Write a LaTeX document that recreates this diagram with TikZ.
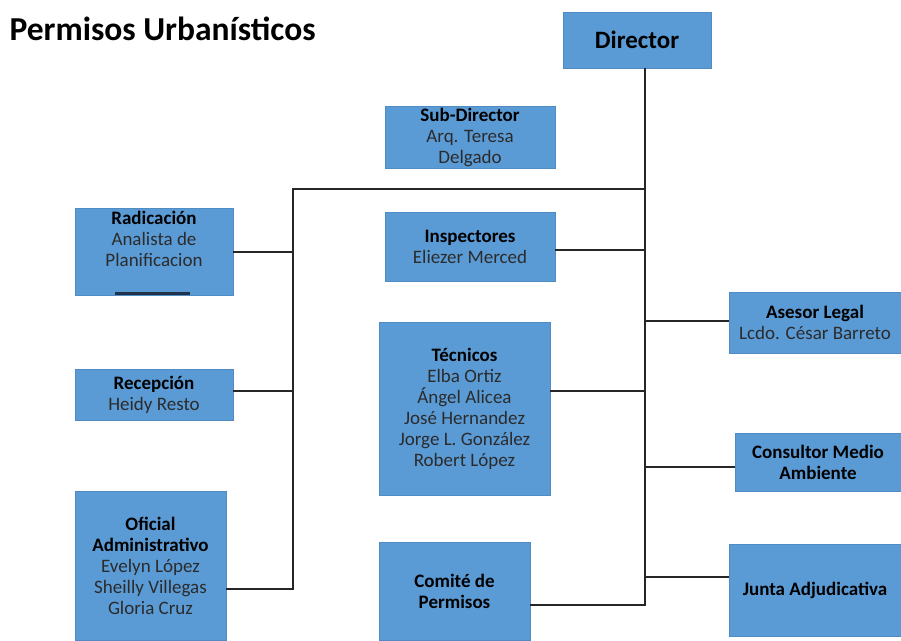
\documentclass[tikz,border=0pt]{standalone}
\usepackage{fontspec}
\setmainfont{Carlito}
\usetikzlibrary{positioning,calc}
\definecolor{cBox}{HTML}{5B9BD5}
\definecolor{cEdge}{HTML}{4F8CC4}
\definecolor{cLine}{HTML}{262626}
\definecolor{cName}{HTML}{2B2B2B}
\definecolor{cBar}{HTML}{22324A}

\begin{document}
\begin{tikzpicture}[
  x=1pt, y=-1pt,
  font=\fontsize{19}{21}\selectfont,
  unit/.style={draw=cEdge, fill=cBox, align=center, inner sep=2pt,
               text=cName},
  head/.style={font=\fontsize{19}{21}\selectfont\bfseries, text=black},
  link/.style={draw=cLine, line width=1.5pt},
]
\useasboundingbox (0,0) rectangle (901,640);

% ---- title and head ----
\node[anchor=west, font=\fontsize{33.5}{40}\selectfont\bfseries] (title) at (6,29)
  {Permisos Urbanísticos};
\node[unit, minimum width=148pt, minimum height=56pt,
      font=\fontsize{25}{30}\selectfont\bfseries, text=black] (dir) at (637,40) {Director};
\node[unit, minimum width=170pt, minimum height=62pt] (sub) at (470,137)
  {\textbf{\color{black}Sub-Director}\\ Arq. Teresa\\ Delgado};

% ---- left column ----
\node[unit, minimum width=158pt, minimum height=80pt] (rad) at (154,252)
  {\textbf{\color{black}Radicación}\\ Analista de\\ Planificacion\\ \strut};
\node[unit, minimum width=158pt, minimum height=51pt] (rec) at (154,394.5)
  {\textbf{\color{black}Recepción}\\ Heidy Resto};
\node[unit, minimum width=151pt, minimum height=149pt] (ofi) at (150.5,565.5)
  {\textbf{\color{black}Oficial}\\ \textbf{\color{black}Administrativo}\\ Evelyn López\\ Sheilly Villegas\\ Gloria Cruz};

% ---- middle column ----
\node[unit, minimum width=170pt, minimum height=69pt] (ins) at (470,246.5)
  {\textbf{\color{black}Inspectores}\\ Eliezer Merced};
\node[unit, minimum width=171pt, minimum height=173pt] (tec) at (464.5,408.5)
  {\textbf{\color{black}Técnicos}\\ Elba Ortiz\\ Ángel Alicea\\ José Hernandez\\ Jorge L. González\\ Robert López};
\node[unit, head, minimum width=151pt, minimum height=98pt] (com) at (454.5,591)
  {Comité de\\ Permisos};

% ---- right column ----
\node[unit, minimum width=172pt, minimum height=61pt] (ase) at (815,322.5)
  {\textbf{\color{black}Asesor Legal}\\ Lcdo. César Barreto};
\node[unit, head, minimum width=166pt, minimum height=58pt] (con) at (818,462)
  {Consultor Medio\\ Ambiente};
\node[unit, head, minimum width=172pt, minimum height=92pt] (jun) at (815,590)
  {Junta Adjudicativa};

% bar under the Radicación text
\draw[line width=3pt, draw=cBar] ([xshift=-39pt,yshift=2.5pt]rad.south) -- ([xshift=36pt,yshift=2.5pt]rad.south);

% ---- trunk and branches ----
\coordinate (trunk) at (645,605);
\coordinate (tee) at (645,189);
\coordinate (ltop) at (293,189);
\coordinate (lbot) at (293,589);

\draw[link] (dir.south -| trunk) -- (trunk) -- (trunk -| com.east);
\draw[link] (tee) -- (ltop) -- (lbot) -- (lbot -| ofi.east);
\draw[link] (rad.east) -- (rad.east -| ltop);
\draw[link] (ltop |- 391,391) -- (rec.east |- 391,391);

\draw[link] (ins.east |- 0,250) -- (tee |- 0,250);
\draw[link] (tec.east |- 0,391) -- (tee |- 0,391);

\draw[link] (ase.west |- 0,321) -- (tee |- 0,321);
\draw[link] (con.west |- 0,467) -- (tee |- 0,467);
\draw[link] (jun.west |- 0,577) -- (tee |- 0,577);
\end{tikzpicture}
\end{document}
